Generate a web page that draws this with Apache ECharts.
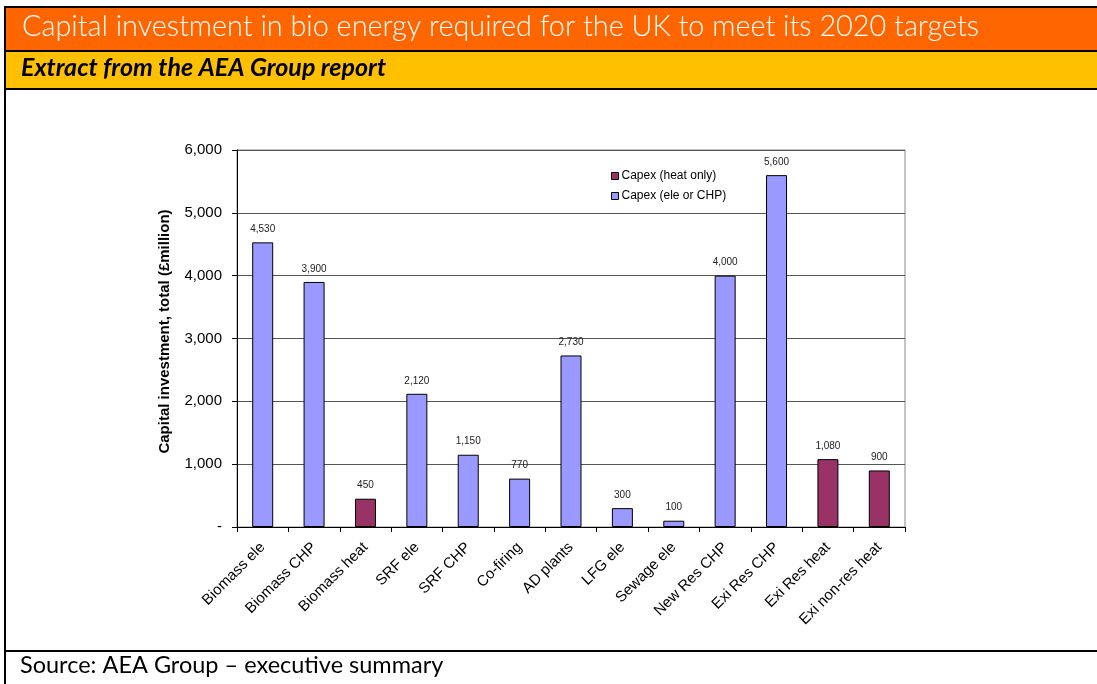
<!DOCTYPE html>
<html>
<head>
<meta charset="utf-8">
<script src="https://cdn.jsdelivr.net/npm/echarts@6/dist/echarts.min.js"></script>
<style>
  html, body { margin: 0; padding: 0; background: #fff; }
  #chart { width: 1097px; height: 684px; }
</style>
</head>
<body>
<div id="chart"></div>
<script>
const categories = ['Biomass ele', 'Biomass CHP', 'Biomass heat', 'SRF ele', 'SRF CHP', 'Co-firing',
  'AD plants', 'LFG ele', 'Sewage ele', 'New Res CHP', 'Exi Res CHP', 'Exi Res heat', 'Exi non-res heat'];
const heatOnly = [null, null, 450, null, null, null, null, null, null, null, null, 1080, 900];
const eleOrChp = [4530, 3900, null, 2120, 1150, 770, 2730, 300, 100, 4000, 5600, null, null];
const yTicks = [0, 1000, 2000, 3000, 4000, 5000, 6000];

const fmt = v => v === 0 ? '-' : v.toLocaleString('en-US');

const chart = echarts.init(document.getElementById('chart'));

const barLabel = {
  show: true,
  position: 'top',
  distance: 8,
  fontFamily: 'Arial, Liberation Sans',
  fontSize: 10,
  color: '#222',
  formatter: p => fmt(p.value)
};

chart.setOption({
  animation: false,
  graphic: [
    // header bands and frame lines
    { type: 'rect', shape: { x: 5, y: 8, width: 1092, height: 43 }, style: { fill: '#FF6600' } },
    { type: 'rect', shape: { x: 5, y: 52, width: 1092, height: 37 }, style: { fill: '#FFC000' } },
    { type: 'rect', shape: { x: 4, y: 6, width: 1093, height: 2 }, style: { fill: '#000' } },
    { type: 'rect', shape: { x: 4, y: 50, width: 1093, height: 2 }, style: { fill: '#000' } },
    { type: 'rect', shape: { x: 4, y: 88, width: 1093, height: 2 }, style: { fill: '#000' } },
    { type: 'rect', shape: { x: 4, y: 650, width: 1093, height: 2 }, style: { fill: '#000' } },
    { type: 'rect', shape: { x: 4, y: 6, width: 2, height: 678 }, style: { fill: '#000' } },
    {
      type: 'text', left: 22, top: 12,
      style: {
        text: 'Capital investment in bio energy required for the UK to meet its 2020 targets',
        fill: '#fff', font: '300 28.8px Lato'
      }
    },
    {
      type: 'text', left: 21, top: 55,
      style: {
        text: 'Extract from the AEA Group report',
        fill: '#000', font: 'italic bold 25px Lato'
      }
    },
    {
      type: 'text', left: 20, top: 653,
      style: {
        text: 'Source: AEA Group \u2013 executive summary',
        fill: '#000', font: '23.5px Lato'
      }
    }
  ],
  legend: {
    orient: 'vertical',
    left: 606,
    top: 165,
    itemWidth: 7,
    itemHeight: 7,
    itemGap: 8,
    icon: 'rect',
    itemStyle: { borderColor: '#000', borderWidth: 1 },
    textStyle: { fontFamily: 'Arial, Liberation Sans', fontSize: 12, color: '#000', padding: [0, 0, 0, -2] },
    data: ['Capex (heat only)', 'Capex (ele or CHP)']
  },
  grid: {
    left: 237,
    right: 192,
    top: 150,
    bottom: 157,
    show: true,
    borderColor: '#888',
    borderWidth: 1
  },
  xAxis: {
    type: 'category',
    data: categories,
    axisLine: { lineStyle: { color: '#000' } },
    axisTick: { show: true, length: 5, lineStyle: { color: '#000' } },
    axisLabel: {
      rotate: 45,
      margin: 18,
      interval: 0,
      fontFamily: 'Arial, Liberation Sans',
      fontSize: 15,
      color: '#000'
    }
  },
  yAxis: {
    type: 'value',
    min: yTicks[0],
    max: yTicks[yTicks.length - 1],
    interval: 1000,
    name: 'Capital investment, total (\u00a3million)',
    nameLocation: 'middle',
    nameGap: 65,
    nameTextStyle: {
      fontFamily: 'Arial, Liberation Sans', fontSize: 15, fontWeight: 'bold', color: '#000',
      padding: [0, 0, 0, 14]
    },
    axisLine: { show: true, lineStyle: { color: '#000' } },
    axisTick: { show: true, length: 5, lineStyle: { color: '#000' } },
    axisLabel: {
      margin: 15,
      fontFamily: 'Arial, Liberation Sans',
      fontSize: 15,
      color: '#000',
      formatter: fmt
    },
    splitLine: { lineStyle: { color: '#555', width: 1 } }
  },
  series: [
    {
      name: 'Capex (heat only)',
      type: 'bar',
      data: heatOnly,
      barWidth: 21,
      barGap: '-100%',
      itemStyle: { color: '#993366', borderColor: '#000', borderWidth: 1 },
      label: barLabel
    },
    {
      name: 'Capex (ele or CHP)',
      type: 'bar',
      data: eleOrChp,
      barWidth: 21,
      barGap: '-100%',
      itemStyle: { color: '#9999FF', borderColor: '#000', borderWidth: 1 },
      label: barLabel
    }
  ]
});
</script>
</body>
</html>
